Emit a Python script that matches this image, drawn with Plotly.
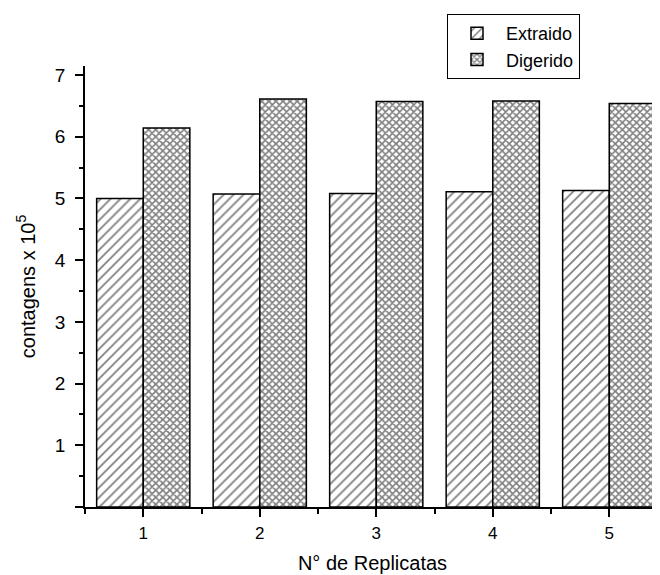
import plotly.graph_objects as go

replicatas = [1, 2, 3, 4, 5]
extraido = [5.00, 5.07, 5.08, 5.11, 5.13]
digerido = [6.14, 6.61, 6.57, 6.58, 6.54]
y_tickvals = [0, 1, 2, 3, 4, 5, 6, 7]
y_ticktext = ["", "1", "2", "3", "4", "5", "6", "7"]
x_ticktext = ["1", "2", "3", "4", "5"]

FONT = "Liberation Sans, Arial, sans-serif"

fig = go.Figure()
fig.add_trace(go.Bar(
    x=replicatas, y=extraido, name="Extraido", width=0.4, offset=-0.4,
    marker=dict(color="white", line=dict(color="black", width=1.5),
                pattern=dict(shape="/", size=7, solidity=0.25,
                             fgcolor="black", bgcolor="white", fillmode="overlay")),
))
fig.add_trace(go.Bar(
    x=replicatas, y=digerido, name="Digerido", width=0.4, offset=0.0,
    marker=dict(color="white", line=dict(color="black", width=1.5),
                pattern=dict(shape="x", size=5, solidity=0.55,
                             fgcolor="black", bgcolor="white", fillmode="overlay")),
))

# The page body has an 8px default margin; the figure is sized so it fits the window.
fig.update_layout(
    width=652, height=567,
    margin=dict(l=77, r=0, t=58, b=68, autoexpand=False),
    plot_bgcolor="white", paper_bgcolor="white",
    font=dict(family=FONT, color="black", size=16),
    barmode="overlay",
    showlegend=True,
    legend=dict(
        x=(447 - 85) / 575, y=(507 - 14) / 441, xanchor="left", yanchor="top",
        bordercolor="black", borderwidth=1, bgcolor="white",
        font=dict(size=18, family=FONT), tracegroupgap=0, itemwidth=48,
    ),
    xaxis=dict(
        range=[0.5, 0.5 + 575 / 116.5],
        tickvals=replicatas, ticktext=x_ticktext,
        ticks="outside", ticklen=8, tickwidth=1.5, tickcolor="black",
        minor=dict(dtick=0.5, tick0=0.5, ticks="outside", ticklen=5, tickwidth=1.5, tickcolor="black"),
        showline=True, linecolor="black", linewidth=1.5,
        showgrid=False, zeroline=False,
        tickfont=dict(size=17), ticklabelstandoff=2,
        title=dict(text="N° de Replicatas", font=dict(size=20), standoff=14),
    ),
    yaxis=dict(
        range=[0, 7.146],
        tickvals=y_tickvals, ticktext=y_ticktext,
        ticks="outside", ticklen=8, tickwidth=1.5, tickcolor="black",
        minor=dict(dtick=0.5, tick0=0, ticks="outside", ticklen=4, tickwidth=1.5, tickcolor="black"),
        showline=True, linecolor="black", linewidth=1.5,
        showgrid=False, zeroline=False,
        tickfont=dict(size=19), ticklabelstandoff=6,
        title=dict(text="contagens x 10<sup>5</sup>", font=dict(size=20), standoff=14),
    ),
)

fig.write_html("out.html")
